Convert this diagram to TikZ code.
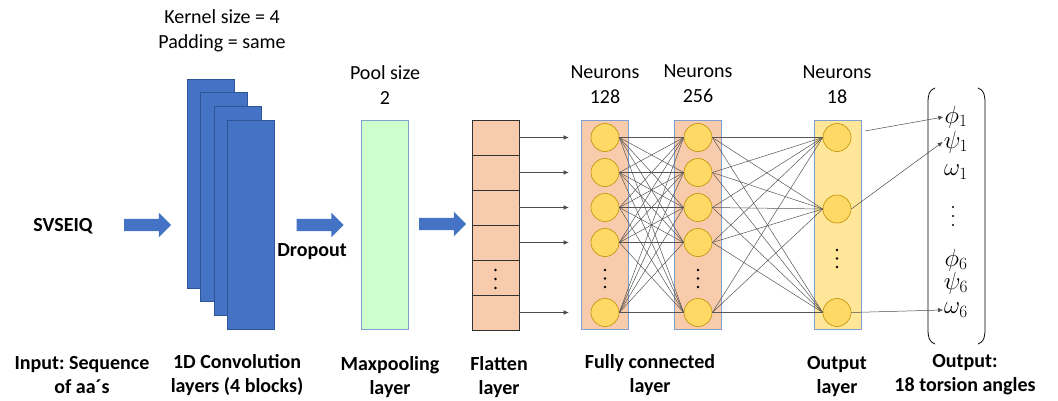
\documentclass[tikz,border=0pt]{standalone}
\usepackage{fontspec}
\setmainfont{Carlito}
\frenchspacing
\usetikzlibrary{arrows.meta,shapes.arrows,calc}
\definecolor{convblue}{HTML}{4472C4}
\definecolor{convedge}{HTML}{2F5597}
\definecolor{boxedge}{HTML}{7F9FCF}
\definecolor{mint}{HTML}{CCFFCC}
\definecolor{peach}{HTML}{F8CBAD}
\definecolor{gold}{HTML}{FFD966}
\definecolor{goldedge}{HTML}{BF9000}
\definecolor{paleyellow}{HTML}{FFE699}
\definecolor{wire}{HTML}{555555}
\begin{document}
\begin{tikzpicture}[x=1pt,y=-1pt,
  lbl/.style={font=\fontsize{20}{25}\selectfont, align=center, inner sep=0pt},
  blbl/.style={font=\fontsize{20}{24}\selectfont\bfseries, align=center, inner sep=0pt},
  mathlbl/.style={font=\fontsize{23}{26}\selectfont, inner sep=1pt},
  convblock/.style={draw=convedge, fill=convblue, line width=0.6pt, minimum width=47pt, minimum height=209pt, inner sep=0pt},
  bigarrow/.style={single arrow, fill=convblue, draw=none, minimum height=47pt, minimum width=24pt, single arrow head extend=6pt, single arrow head indent=0pt, inner xsep=0pt, inner ysep=6pt},
  layerbox/.style={draw=boxedge, line width=0.7pt, minimum width=47pt, minimum height=209pt, inner sep=0pt},
  cell/.style={draw=black!80, fill=peach, line width=0.7pt, minimum width=47pt, minimum height=35pt, inner sep=0pt},
  neuron/.style={circle, draw=goldedge, fill=gold, line width=0.6pt, minimum size=28pt, inner sep=0pt},
  wireline/.style={draw=wire, line width=0.5pt},
  thinarrow/.style={draw=black!70, line width=0.5pt, -{Latex[length=5pt,width=4.5pt]}},
  dot/.style={circle, fill=black, minimum size=2.6pt, inner sep=0pt}
]
\useasboundingbox (0,0) rectangle (1058,400);

% top labels
\node[lbl] (kern) at (222,30.5) {Kernel size = 4\\Padding = same};
\node[lbl] (pool) at (385,85.5) {Pool size\\2};
\node[lbl] (n128) at (605,85) {Neurons\\128};
\node[lbl] (n256) at (698,84) {Neurons\\256};
\node[lbl] (n18) at (837,85) {Neurons\\18};

% input
\node[blbl] (svs) at (63,226) {SVSEIQ};
\node[bigarrow] (ar1) at (144.5,225) {};

% conv blocks
\node[convblock] (c1) at (210.5,183.5) {};
\node[convblock] (c2) at (224,197) {};
\node[convblock] (c3) at (237.5,210.5) {};
\node[convblock] (c4) at (251,224.5) {};

\node[bigarrow] (ar2) at (317,225) {};
\node[blbl] (drop) at (312,252) {Dropout};

% maxpool
\node[layerbox, fill=mint] (mp) at (384.5,224.5) {};
\node[bigarrow] (ar3) at (439.5,224) {};

% flatten
\foreach \i in {1,...,6} {
  \node[cell] (f\i) at (495.5,{120+35*(\i-0.5)}) {};
}
\foreach \k/\y in {1/270,2/279,3/288} {
  \node[dot] (fd\k) at (495.5,\y) {};
}

% fully connected boxes
\node[layerbox, fill=peach] (fc1) at (604.5,224.5) {};
\node[layerbox, fill=peach] (fc2) at (698,224.5) {};
\node[layerbox, fill=paleyellow] (outbox) at (837.5,225) {};

\foreach \i/\y in {1/137.5,2/172.5,3/207.5,4/242.5,5/312.5} {
  \node[neuron] (a\i) at (605,\y) {};
  \node[neuron] (b\i) at (698,\y) {};
}
\foreach \i/\y in {1/137.5,2/209,3/312.5} {
  \node[neuron] (o\i) at (837,\y) {};
}
\foreach \k/\y in {1/270,2/278.5,3/287} {
  \node[dot] (ad\k) at (605,\y) {};
  \node[dot] (bd\k) at (698,\y) {};
}
\foreach \k/\y in {1/250,2/258.5,3/267} {
  \node[dot] (od\k) at (837,\y) {};
}

% flatten -> fc1 arrows
\foreach \i/\k in {1/1,2/2,3/3,4/4,6/5} {
  \draw[thinarrow, shorten >=22pt] (f\i.east) -- (f\i.east -| a\k.west);
}

% dense connections
\foreach \i in {1,...,5} {
  \foreach \j in {1,...,5} {
    \draw[wireline] (a\i.east) -- (b\j.west);
  }
}
\foreach \i in {1,...,5} {
  \foreach \j in {1,2,3} {
    \draw[wireline] (b\i.east) -- (o\j.west);
  }
}

% output vector
\node[mathlbl] (p1) at (956,117) {$\phi_1$};
\node[mathlbl] (s1) at (956,142) {$\psi_1$};
\node[mathlbl] (w1) at (956,172) {$\omega_1$};
\foreach \k/\y in {1/207,2/216,3/225} {
  \node[dot, minimum size=2.4pt] (vd\k) at (953,\y) {};
}
\node[mathlbl] (p6) at (956,260) {$\phi_6$};
\node[mathlbl] (s6) at (956,283) {$\psi_6$};
\node[mathlbl] (w6) at (956,310) {$\omega_6$};

\draw[line width=0.8pt] (935,88) .. controls (929,90) and (928,95) .. (928,103) -- (928,329) .. controls (928,337) and (929,342) .. (935,344);
\draw[line width=0.8pt] (978,88) .. controls (984,90) and (985,95) .. (985,103) -- (985,329) .. controls (985,337) and (984,342) .. (978,344);

\coordinate (oc) at (865,131);
\draw[thinarrow] (oc) -- (p1.west);
\draw[thinarrow] (o2.east) -- (s1.west);
\draw[thinarrow] (o3.east) -- (w6.west);

% bottom labels
\node[blbl] (l1) at (82,375) {Input: Sequence\\of aa´s};
\node[blbl] (l2) at (237,375) {1D Convolution\\layers (4 blocks)};
\node[blbl] (l3) at (390,377) {Maxpooling\\layer};
\node[blbl] (l4) at (499,377) {Flatten\\layer};
\node[blbl] (l5) at (650,375) {Fully connected\\layer};
\node[blbl] (l6) at (837,377) {Output\\layer};
\node[blbl] (l7) at (965,375) {Output:\\18 torsion angles};
\end{tikzpicture}
\end{document}
